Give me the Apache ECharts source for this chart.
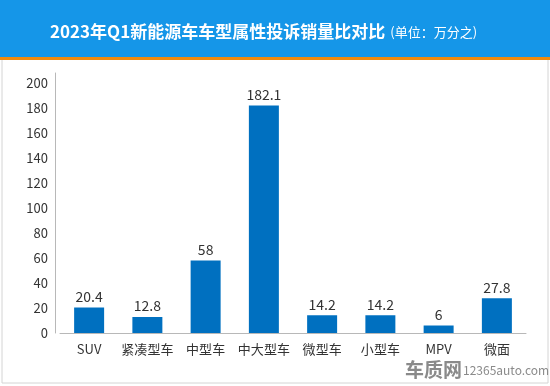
<!DOCTYPE html>
<html><head><meta charset="utf-8">
<script src="https://cdn.jsdelivr.net/npm/echarts@6/dist/echarts.min.js"></script>
<style>html,body{margin:0;padding:0;background:#fff}#c{width:550px;height:386px}</style>
</head><body><div id="c"></div>
<script>
const categories = ['SUV','紧凑型车','中型车','中大型车','微型车','小型车','MPV','微面'];
const values = [20.4, 12.8, 58, 182.1, 14.2, 14.2, 6, 27.8];
const titleText = '2023年Q1新能源车车型属性投诉销量比对比';
const unitText = '(单位：万分之)';
const FONT = '"Microsoft YaHei","Noto Sans CJK SC","Noto Sans",sans-serif';
const chart = echarts.init(document.getElementById('c'), null, {renderer:'canvas'});
chart.setOption({
  animation: false,
  backgroundColor: '#fff',
  graphic: [
    {type:'rect', shape:{x:2,y:58,width:546,height:325}, style:{fill:'#fff', stroke:'#d4d4d4', lineWidth:1}, z:-10},
    {type:'rect', shape:{x:0,y:0,width:550,height:57}, style:{fill:'#1596e8'}, z:-5},
    {type:'rect', shape:{x:0,y:57,width:550,height:3}, style:{fill:'#f28a0c'}, z:-5},
    {type:'text', left:405, top:360, style:{text:'车质网', fill:'#8a8a8a', font:'bold 19px ' + FONT}, z:10},
    {type:'text', left:463, top:364, style:{text:'12365auto.com', fill:'#8a8a8a', font:'12px ' + FONT}, z:10}
  ],
  title: {
    text: '{a|' + titleText + '} {b|' + unitText + '}',
    left: 45, top: 18,
    textStyle: {
      fontWeight: 'normal',
      rich: {
        a: {fontSize: 17, fontWeight: 'bold', color: '#fff', fontFamily: FONT},
        b: {fontSize: 13, fontWeight: 'normal', color: '#fff', fontFamily: FONT}
      }
    }
  },
  grid: {left: 60, right: 24, top: 73, bottom: 53},
  xAxis: {
    type: 'category', data: categories,
    axisLine: {lineStyle: {color: '#b8b8b8'}},
    axisTick: {show: false},
    axisLabel: {color: '#333', fontSize: 13, fontFamily: FONT, margin: 10, interval: 0}
  },
  yAxis: {
    type: 'value', min: 0, max: 208, interval: 20, offset: 5,
    axisLine: {show: true, lineStyle: {color: '#b8b8b8'}},
    axisTick: {show: false},
    splitLine: {show: false},
    axisLabel: {color: '#333', fontSize: 13, fontFamily: FONT, margin: 7, showMaxLabel: false}
  },
  series: [{
    type: 'bar', data: values, barWidth: 30,
    itemStyle: {color: '#0070c0'},
    label: {show: true, position: 'top', distance: 4, color: '#333', fontSize: 14, fontFamily: FONT}
  }]
});
</script></body></html>
